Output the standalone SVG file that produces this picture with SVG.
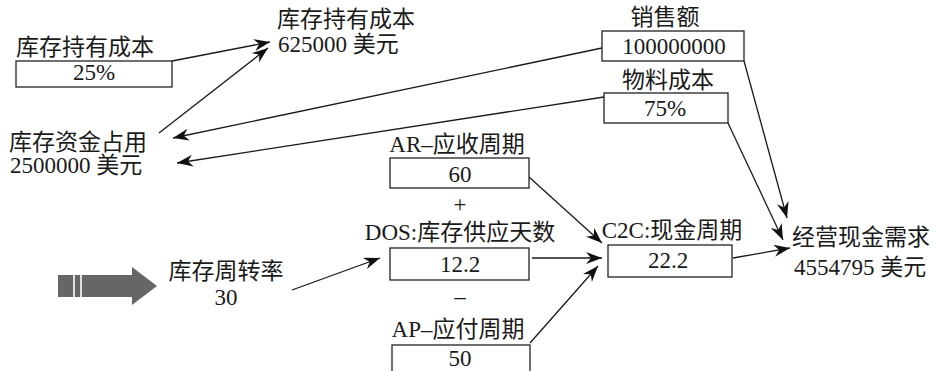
<svg xmlns="http://www.w3.org/2000/svg" width="940" height="371" viewBox="0 0 940 371">
<style>
text{font-family:"Liberation Serif","Noto Sans CJK SC",serif;font-size:23px;fill:#1a1a1a}
.c{text-anchor:middle}
.box{fill:#fff;stroke:#222;stroke-width:1.3}
.con{stroke:#1a1a1a;stroke-width:1.3;fill:none;marker-end:url(#ah)}
</style>
<defs>
<marker id="ah" markerUnits="userSpaceOnUse" markerWidth="18" markerHeight="14" refX="16" refY="6" orient="auto">
<path d="M0,0 L16,6 L0,12 L5,6 z" fill="#111"/>
</marker>
</defs>
<rect width="940" height="371" fill="#fff"/>
<g id="connectors">
<line class="con" x1="172" y1="61" x2="270" y2="42"/>
<line class="con" x1="159" y1="133" x2="268" y2="48"/>
<line class="con" x1="602" y1="48" x2="173" y2="138"/>
<line class="con" x1="604" y1="97" x2="177" y2="163"/>
<line class="con" x1="744" y1="61" x2="787" y2="218"/>
<line class="con" x1="728" y1="123" x2="783" y2="240"/>
<line class="con" x1="529" y1="177" x2="602" y2="243"/>
<line class="con" x1="532" y1="258" x2="602" y2="258"/>
<line class="con" x1="530" y1="343" x2="598" y2="266"/>
<line class="con" x1="292" y1="290" x2="380" y2="258"/>
<line class="con" x1="733" y1="258" x2="790" y2="248"/>
</g>
<g id="holding-rate">
<text x="16" y="55">库存持有成本</text>
<rect class="box" x="16" y="61" width="156" height="26"/>
<text class="c" x="94" y="80">25%</text>
</g>
<g id="holding-cost">
<text x="277" y="27">库存持有成本</text>
<text x="278" y="52">625000 美元</text>
</g>
<g id="inventory-capital">
<text x="9" y="150">库存资金占用</text>
<text x="10" y="173">2500000 美元</text>
</g>
<g id="sales">
<text class="c" x="665" y="25">销售额</text>
<rect class="box" x="602" y="31" width="142" height="30"/>
<text class="c" x="674" y="54">100000000</text>
</g>
<g id="material-cost">
<text class="c" x="668" y="88">物料成本</text>
<rect class="box" x="604" y="93" width="124" height="30"/>
<text class="c" x="665" y="116">75%</text>
</g>
<g id="ar">
<text class="c" x="457" y="152">AR–应收周期</text>
<rect class="box" x="390" y="158" width="139" height="30"/>
<text class="c" x="460" y="182">60</text>
</g>
<text class="c" x="460" y="212">+</text>
<g id="dos">
<text class="c" x="460" y="240">DOS:库存供应天数</text>
<rect class="box" x="390" y="248" width="139" height="32"/>
<text class="c" x="460" y="272">12.2</text>
</g>
<text class="c" x="460" y="304">–</text>
<g id="ap">
<text class="c" x="458" y="337">AP–应付周期</text>
<rect class="box" x="392" y="345" width="138" height="34"/>
<text class="c" x="460" y="366">50</text>
</g>
<g id="c2c">
<text class="c" x="672" y="238">C2C:现金周期</text>
<rect class="box" x="608" y="245" width="124" height="32"/>
<text class="c" x="668" y="268">22.2</text>
</g>
<g id="cash-need">
<text x="792" y="245">经营现金需求</text>
<text x="794" y="275">4554795 美元</text>
</g>
<g id="turnover">
<polygon points="58,275 132,275 132,267 157,286 132,305 132,297 58,297" fill="#666"/>
<line x1="74" y1="275" x2="74" y2="297" stroke="#fff" stroke-width="1.6"/>
<line x1="81" y1="275" x2="81" y2="297" stroke="#fff" stroke-width="1.6"/>
<text class="c" x="226" y="279">库存周转率</text>
<text class="c" x="226" y="305">30</text>
</g>
</svg>
